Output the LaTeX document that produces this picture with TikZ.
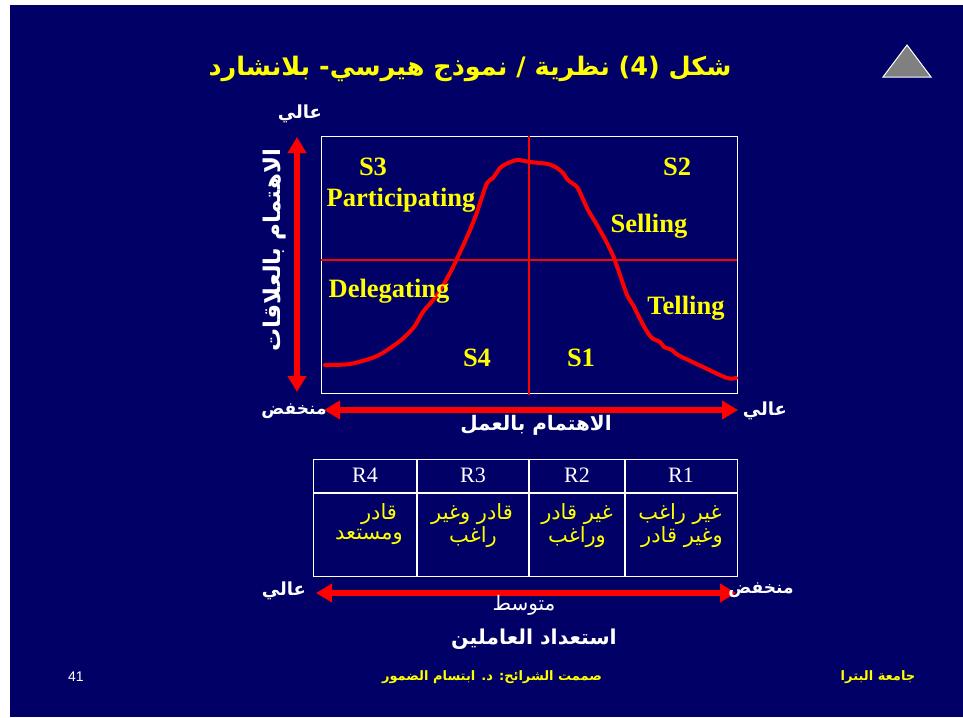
\documentclass[tikz,border=0pt]{standalone}
\usepackage{fontspec}
\setmainfont{Liberation Serif}
\newfontfamily\arabicfont[Script=Arabic]{DejaVu Sans}
\newfontfamily\latsans{Liberation Sans}
\TeXXeTstate=1
\usetikzlibrary{arrows.meta}
\definecolor{bgnavy}{RGB}{0,0,102}
\definecolor{ylw}{RGB}{255,255,0}
\definecolor{redc}{RGB}{255,0,0}
\definecolor{tri}{RGB}{128,128,128}
\tikzset{
  bigarrow/.style={draw=redc, line width=6pt, {Triangle[length=16pt,width=18pt]}-{Triangle[length=16pt,width=18pt]}},
  gridline/.style={draw=redc, line width=2.5pt},
  curve/.style={draw=redc, line width=4pt, line join=round, line cap=round},
  quad/.style={text=ylw, font=\bfseries\fontsize{26.5}{30}\selectfont, inner sep=0pt},
  arwhite/.style={text=white, font=\arabicfont\bfseries\fontsize{17}{20}\selectfont, inner sep=0pt},
  arcell/.style={text=ylw, font=\arabicfont\fontsize{21}{24}\selectfont, inner sep=0pt, align=center},
  rlabel/.style={text=white, font=\fontsize{22}{25}\selectfont, inner sep=0pt},
  tabline/.style={draw=white, line width=1.2pt},
}
\begin{document}
\begin{tikzpicture}[x=1pt,y=-1pt]
\useasboundingbox (0,0) rectangle (963,717);
\fill[bgnavy] (10,5) rectangle (963,717);

% title
\node[text=ylw, font=\arabicfont\bfseries\fontsize{25.5}{30}\selectfont, inner sep=0pt] (title) at (470,69) {\beginR شكل (4) نظرية / نموذج هيرسي- بلانشارد\endR};
% triangle
\filldraw[fill=tri, draw=white, line width=1pt] (907,45) -- (931,77) -- (883,77) -- cycle;

% graph box
\node[draw=white, line width=1pt, minimum width=416pt, minimum height=257pt, inner sep=0pt, anchor=north west] (box) at (321,136) {};
\coordinate (vtop) at (529,136);
\coordinate (vbot) at (529,395);
\coordinate (hl) at (321,260);
\coordinate (hr) at (737,260);
\draw[gridline] (vtop) -- (vbot);
\draw[gridline] (hl) -- (hr);

% curve
\draw[curve] plot[smooth, tension=0.45] coordinates {
 (325,365) (350,364) (377,356) (400,341) (414,327) (423,312) (437,295) (450,273)
 (462,248) (470,230) (476,215) (480,203) (487,183) (493,178) (500,168) (506,164) (517,160)
 (530,162) (548,164) (557,168) (563,173) (568,180) (577,187) (582,197) (588,210) (597,225)
 (607,243) (614,258) (620,275) (627,295) (633,305) (638,315) (646,330) (652,338) (660,342) (664,347) (672,350)
 (678,355) (703,367) (727,378) (736,378)};

% quadrant labels
\node[quad] (s3) at (373,167) {S3};
\node[quad] (part) at (401,200) {Participating};
\node[quad] (s2) at (677,167) {S2};
\node[quad] (sell) at (649,226) {Selling};
\node[quad] (deleg) at (389,291) {Delegating};
\node[quad] (tell) at (686,308) {Telling};
\node[quad] (s4) at (477,358) {S4};
\node[quad] (s1) at (581,358) {S1};

% vertical axis
\coordinate (vat) at (297,137);
\coordinate (vab) at (297,392);
\draw[bigarrow] (vab) -- (vat);
\node[arwhite, font=\arabicfont\bfseries\fontsize{18}{20}\selectfont] (vhigh) at (300,114) {\beginR عالي\endR};
\node[arwhite, rotate=90, font=\arabicfont\bfseries\fontsize{23}{26}\selectfont] (vlab) at (275,250) {\beginR الاهتمام بالعلاقات\endR};

% horizontal axis
\coordinate (hal) at (324,410);
\coordinate (har) at (738,410);
\draw[bigarrow] (hal) -- (har);
\node[arwhite] (hlow) at (294,411) {\beginR منخفض\endR};
\node[arwhite, font=\arabicfont\bfseries\fontsize{18}{20}\selectfont] (hhigh) at (765,411) {\beginR عالي\endR};
\node[arwhite, font=\arabicfont\bfseries\fontsize{20}{23}\selectfont] (hlab) at (536,425) {\beginR الاهتمام بالعمل\endR};

% table
\node[tabline, minimum width=424pt, minimum height=117pt, inner sep=0pt, anchor=north west] (tab) at (313,459) {};
\coordinate (t1) at (313,493); \coordinate (t2) at (737,493);
\draw[tabline] (t1) -- (t2);
\coordinate (c1a) at (417,459); \coordinate (c1b) at (417,576);
\coordinate (c2a) at (529,459); \coordinate (c2b) at (529,576);
\coordinate (c3a) at (625,459); \coordinate (c3b) at (625,576);
\draw[tabline] (c1a) -- (c1b);
\draw[tabline] (c2a) -- (c2b);
\draw[tabline] (c3a) -- (c3b);
\node[rlabel] (r4) at (365,475) {R4};
\node[rlabel] (r3) at (473,475) {R3};
\node[rlabel] (r2) at (577,475) {R2};
\node[rlabel] (r1) at (681,475) {R1};
\node[arcell] (c4l1) at (379,514) {\beginR قادر\endR};
\node[arcell] (c4l2) at (369,537) {\beginR ومستعد\endR};
\node[arcell] (c3l1) at (472,514) {\beginR قادر وغير\endR};
\node[arcell] (c3l2) at (473,537) {\beginR راغب\endR};
\node[arcell] (c2l1) at (577,514) {\beginR غير قادر\endR};
\node[arcell] (c2l2) at (577,537) {\beginR وراغب\endR};
\node[arcell] (c1l1) at (680,514) {\beginR غير راغب\endR};
\node[arcell] (c1l2) at (682,537) {\beginR وغير قادر\endR};

% bottom axis
\coordinate (bal) at (316,593);
\coordinate (bar) at (736,593);
\draw[bigarrow] (bal) -- (bar);
\node[arwhite, font=\arabicfont\bfseries\fontsize{18}{20}\selectfont] (bhigh) at (284,591) {\beginR عالي\endR};
\node[arwhite] (blow) at (761,590) {\beginR منخفض\endR};
\node[arwhite, font=\arabicfont\fontsize{20}{23}\selectfont] (bmid) at (524,605) {\beginR متوسط\endR};
\node[arwhite, font=\arabicfont\bfseries\fontsize{20.5}{24}\selectfont] (blab) at (534,639) {\beginR استعداد العاملين\endR};

% footer
\node[text=white, font=\latsans\fontsize{14}{16}\selectfont, inner sep=0pt] (pg) at (76,677) {41};
\node[text=ylw, font=\arabicfont\bfseries\fontsize{13}{15}\selectfont, inner sep=0pt] (auth) at (492,677) {\beginR صممت الشرائح: د. ابتسام الضمور\endR};
\node[text=ylw, font=\arabicfont\bfseries\fontsize{13}{15}\selectfont, inner sep=0pt] (univ) at (878,677) {\beginR جامعة البترا\endR};
\end{tikzpicture}
\end{document}
